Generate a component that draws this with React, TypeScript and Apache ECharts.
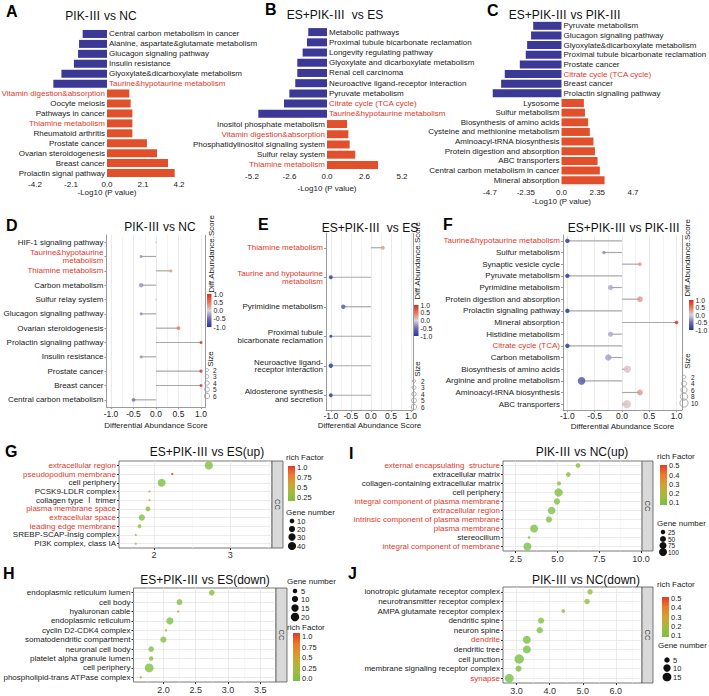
import React, { useEffect, useRef } from 'react';
import * as echarts from 'echarts';

const FONT = "'Liberation Sans', Arial, 'Noto Sans CJK SC', sans-serif";
const TXT = '#222222';
const RED_TXT = '#E0392B';
const BAR_BLUE = '#3B3896';
const BAR_RED = '#E2502B';
const DIFF_COLORS = ['#1E3A98', '#7468B4', '#D9D3DC', '#E4765B', '#DE2A1D'];
const RICH_COLORS = ['#78C143', '#A6BA3A', '#D1A233', '#EC7B2C', '#E6392A'];

// ---------- A ----------
const aTitle = 'PIK-Ⅲ vs NC';
const aNames = ['Central carbon metabolism in cancer', 'Alanine, aspartate&glutamate metabolism', 'Glucagon signaling pathway', 'Insulin resistance', 'Glyoxylate&dicarboxylate metabolism', 'Taurine&hypotaurine metabolism', 'Vitamin digestion&absorption', 'Oocyte meiosis', 'Pathways in cancer', 'Thiamine metabolism', 'Rheumatoid arthritis', 'Prostate cancer', 'Ovarian steroidogenesis', 'Breast cancer', 'Prolactin signal pathway'];
const aValues = [-1.42, -1.63, -1.69, -1.93, -2.66, -3.13, 1.3, 1.38, 1.48, 1.48, 1.48, 2.33, 2.92, 3.56, 3.95];
const aRed = ['Taurine&hypotaurine metabolism', 'Vitamin digestion&absorption', 'Thiamine metabolism'];
const aTicks = [-4.2, -2.1, 0, 2.1, 4.2];

// ---------- B ----------
const bTitle = 'ES+PIK-Ⅲ  vs ES';
const bNames = ['Metabolic pathways', 'Proximal tubule bicarbonate reclamation', 'Longevity regulating pathway', 'Glyoxylate and dicarboxylate metabolism', 'Renal cell carcinoma', 'Neuroactive ligand-receptor interaction', 'Pyruvate metabolism', 'Citrate cycle (TCA cycle)', 'Taurine&hypotaurine metabolism', 'Inositol phosphate metabolism', 'Vitamin digestion&absorption', 'Phosphatidylinositol signaling system', 'Sulfur relay system', 'Thiamine metabolism'];
const bValues = [-1.3, -1.39, -1.69, -2.06, -2.06, -2.2, -2.61, -2.98, -4.76, 1.39, 1.48, 1.57, 1.96, 3.54];
const bRed = ['Citrate cycle (TCA cycle)', 'Taurine&hypotaurine metabolism', 'Vitamin digestion&absorption', 'Thiamine metabolism'];
const bTicks = [-5.2, -2.6, 0, 2.6, 5.2];

// ---------- C ----------
const cTitle = 'ES+PIK-Ⅲ vs PIK-Ⅲ';
const cNames = ['Pyruvate metabolism', 'Glucagon signaling pathway', 'Glyoxylate&dicarboxylate metabolism', 'Proximal tubule bicarbonate reclamation', 'Prostate cancer', 'Citrate cycle (TCA cycle)', 'Breast cancer', 'Prolactin signaling pathway', 'Lysosome', 'Sulfur metabolism', 'Biosynthesis of amino acids', 'Cysteine and methionine metabolism', 'Aminoacyl-tRNA biosynthesis', 'Protein digestion and absorption', 'ABC transporters', 'Central carbon metabolism in cancer', 'Mineral absorption'];
const cValues = [-1.86, -2.0, -2.26, -2.35, -2.74, -3.73, -3.97, -4.52, 1.47, 1.54, 1.75, 1.86, 2.1, 2.2, 2.37, 2.52, 2.83];
const cRed = ['Citrate cycle (TCA cycle)'];
const cTicks = [-4.7, -2.35, 0, 2.35, 4.7];

// ---------- D ----------
const dTitle = 'PIK-Ⅲ vs NC';
const dNames = ['HIF-1 signaling pathway', 'Taurine&hypotaurine\nmetabolism', 'Thiamine metabolism', 'Carbon metabolism', 'Sulfur relay system', 'Glucagon signaling pathway', 'Ovarian steroidogenesis', 'Prolactin signaling pathway', 'Insulin resistance', 'Prostate cancer', 'Breast cancer', 'Central carbon metabolism'];
const dScores = [0, -0.33, 0.33, -0.33, 0, -0.33, 0.5, 1, -0.33, 1, 1, -0.5];
const dSizes = [1, 2, 2, 4, 1, 2, 3, 2, 2, 2, 2, 3];
const dRed = ['Taurine&hypotaurine\nmetabolism', 'Thiamine metabolism'];
const dSizeLegend = [2, 3, 4, 5, 6];

// ---------- E ----------
const eTitle = 'ES+PIK-Ⅲ  vs ES';
const eNames = ['Thiamine metabolism', 'Taurine and hypotaurine\nmetabolism', 'Pyrimidine metabolism', 'Proximal tubule\nbicarbonate reclamation', 'Neuroactive ligand-\nreceptor interaction', 'Aldosterone synthesis\nand secretion'];
const eScores = [0.3, -1, -0.69, -1, -1, -1];
const eSizes = [3, 3, 4, 2, 4, 3];
const eRed = ['Thiamine metabolism', 'Taurine and hypotaurine\nmetabolism'];
const eSizeLegend = [2, 3, 4, 5, 6];

// ---------- F ----------
const fTitle = 'ES+PIK-Ⅲ vs PIK-Ⅲ';
const fNames = ['Taurine&hypotaurine metabolism', 'Sulfur metabolism', 'Synaptic vesicle cycle', 'Pyruvate metabolism', 'Pyrimidine metabolism', 'Protein digestion and absorption', 'Prolactin signaling pathway', 'Mineral absorption', 'Histidine metabolism', 'Citrate cycle (TCA)', 'Carbon metabolism', 'Biosynthesis of amino acids', 'Arginine and proline metabolism', 'Aminoacyl-tRNA biosynthesis', 'ABC transporters'];
const fScores = [-1, -0.33, 0.33, -1, -0.21, 0.33, -1, 1, -0.21, -1, -0.25, 0.1, -0.74, 0.33, 0.09];
const fSizes = [3, 2, 2, 3, 4, 5, 3, 2, 4, 3, 6, 8, 9, 5, 10];
const fRed = ['Taurine&hypotaurine metabolism', 'Citrate cycle (TCA)'];
const fSizeLegend = [2, 4, 6, 8, 10];

const diffTicks = [-1, -0.5, 0, 0.5, 1];
const diffMinor = [-0.75, -0.25, 0.25, 0.75];
const diffLegendTicks = [1, 0.5, 0, -0.5, -1];

// ---------- G ----------
const gTitle = 'ES+PIK-Ⅲ vs ES(up)';
const gNames = ['extracellular region', 'pseudopodium membrane', 'cell periphery', 'PCSK9-LDLR complex', 'collagen type Ⅰ trimer', 'plasma membrane space', 'extracellular space', 'leading edge membrane', 'SREBP-SCAP-Insig complex', 'PI3K complex, class IA'];
const gX = [2.72, 2.24, 2.1, 1.94, 1.94, 1.92, 1.84, 1.81, 1.76, 1.76];
const gGenes = [40, 1, 38, 1, 1, 12, 22, 6, 1, 1];
const gRich = [0.18, 1.0, 0.17, 0.5, 0.5, 0.2, 0.18, 0.25, 0.35, 0.35];
const gRed = ['extracellular region', 'pseudopodium membrane', 'plasma membrane space', 'extracellular space', 'leading edge membrane'];
const gTicks = [2, 3];
const gMinor = [2.5, 3.5];
const gRichTicks = [1.0, 0.75, 0.5, 0.25];
const gGeneLegend = [10, 20, 30, 40];

// ---------- H ----------
const hTitle = 'ES+PIK-Ⅲ vs ES(down)';
const hNames = ['endoplasmic reticulum lumen', 'cell body', 'hyaluronan cable', 'endoplasmic reticulum', 'cyclin D2-CDK4 complex', 'somatodendritic compartment', 'neuronal cell body', 'platelet alpha granule lumen', 'cell periphery', 'phospholipid-trans ATPase complex'];
const hX = [2.75, 2.25, 2.23, 2.1, 2.04, 2.0, 1.81, 1.81, 1.78, 1.65];
const hGenes = [8, 9, 1, 14, 1, 10, 8, 5, 22, 1];
const hRich = [0.06, 0.06, 0.5, 0.04, 0.45, 0.05, 0.06, 0.12, 0.03, 0.35];
const hRed: string[] = [];
const hTicks = [2.0, 2.5, 3.0, 3.5];
const hMinor = [1.75, 2.25, 2.75, 3.25];
const hRichTicks = [1.0, 0.75, 0.5, 0.25, 0.0];
const hGeneLegend = [5, 10, 15, 20];

// ---------- I ----------
const iTitle = 'PIK-Ⅲ vs NC(up)';
const iNames = ['external encapsulating  structure', 'extracellular matrix', 'collagen-containing extracellular matrix', 'cell periphery', 'integral component of plasma membrane', 'extracellular region', 'intrinsic component of plasma membrane', 'plasma membrane', 'stereocilium', 'integral component of membrane'];
const iX = [6.23, 5.65, 5.09, 5.07, 4.97, 4.65, 4.49, 3.6, 3.3, 3.2];
const iGenes = [30, 30, 22, 110, 55, 90, 55, 100, 6, 100];
const iRich = [0.12, 0.11, 0.13, 0.08, 0.09, 0.09, 0.09, 0.08, 0.14, 0.07];
const iRed = ['external encapsulating  structure', 'integral component of plasma membrane', 'extracellular region', 'intrinsic component of plasma membrane', 'plasma membrane', 'integral component of membrane'];
const iTicks = [2.5, 5.0, 7.5, 10.0];
const iMinor = [3.75, 6.25, 8.75];
const iRichTicks = [0.5, 0.4, 0.3, 0.2, 0.1];
const iGeneLegend = [25, 50, 75, 100];

// ---------- J ----------
const jTitle = 'PIK-Ⅲ vs NC(down)';
const jNames = ['ionotropic glutamate receptor complex', 'neurotransmitter receptor complex', 'AMPA glutamate receptor complex', 'dendritic spine', 'neuron spine', 'dendrite', 'dendritic tree', 'cell junction', 'membrane signaling receptor complex', 'synapse'];
const jX = [5.22, 5.13, 4.41, 3.74, 3.7, 3.31, 3.31, 3.08, 3.06, 2.78];
const jGenes = [5, 5, 2, 7, 7, 12, 12, 18, 7, 15];
const jRich = [0.15, 0.13, 0.18, 0.1, 0.1, 0.08, 0.08, 0.06, 0.09, 0.06];
const jRed = ['dendrite', 'synapse'];
const jTicks = [3.0, 4.0, 5.0, 6.0];
const jMinor = [3.5, 4.5, 5.5, 6.5];
const jRichTicks = [0.5, 0.4, 0.3, 0.2, 0.1];
const jGeneLegend = [5, 10, 15];

// size scales
const dSize = (s: number) => 2.2 * Math.sqrt(s);
const fSize = (s: number) => 2.6 * Math.sqrt(s);
const gSize = (n: number) => 1.2 + 1.1 * Math.sqrt(n);
const hSize = (n: number) => 0.8 + 1.7 * Math.sqrt(n);
const iSize = (n: number) => 1.0 + 0.7 * Math.sqrt(n);
const jSize = (n: number) => 1.0 + 2.0 * Math.sqrt(n);

function buildOption() {
  const grid: any[] = [];
  const xAxis: any[] = [];
  const yAxis: any[] = [];
  const series: any[] = [];
  const graphic: any[] = [];
  const visualMap: any[] = [];

  const txt = (x: number, y: number, text: string, o: any = {}) => ({
    type: 'text', x, y, silent: true, rotation: o.rotation || 0, z: 10,
    style: {
      text, fontFamily: FONT, fontSize: o.size || 8, fontWeight: o.weight || 'normal',
      fill: o.color || TXT, align: o.align || 'left', verticalAlign: o.valign || 'middle',
    },
  });

  const fmtBar = (v: number) => (Math.abs(v) < 1e-9 ? '0.0' : String(v));

  const barPanel = (names: string[], values: number[], reds: string[], ticks: number[], box: any, margin: number, gap: number) => {
    const gi = grid.length;
    grid.push(box);
    xAxis.push({
      gridIndex: gi, type: 'value', min: ticks[0], max: ticks[ticks.length - 1],
      axisLine: { show: false }, axisTick: { show: false }, splitLine: { show: false },
      axisLabel: { customValues: ticks, formatter: fmtBar, fontSize: 8, margin, color: TXT, fontFamily: FONT },
      name: '-Log10 (P value)', nameLocation: 'middle', nameGap: gap,
      nameTextStyle: { fontSize: 8, color: TXT, fontFamily: FONT },
    });
    yAxis.push({ gridIndex: gi, type: 'category', inverse: true, data: names, show: false });
    series.push({
      type: 'bar', xAxisIndex: gi, yAxisIndex: gi, barWidth: 8, silent: true,
      label: { show: true, formatter: '{b}', fontSize: 8, fontFamily: FONT, distance: 2 },
      data: values.map((v, i) => ({
        value: v,
        itemStyle: { color: v < 0 ? BAR_BLUE : BAR_RED },
        label: { position: v < 0 ? 'right' : 'left', color: reds.includes(names[i]) ? RED_TXT : TXT },
      })),
    });
  };

  const vLine = (v: number, color: string, width: number) => ({ xAxis: v, lineStyle: { color, width, type: 'solid' } });
  const hLine = (i: number, color: string, width: number) => ({ yAxis: i, lineStyle: { color, width, type: 'solid' } });

  const lolliPanel = (names: string[], scores: number[], sizes: number[], reds: string[], box: any, min: number, max: number, sizeFn: any, margin: number, gap: number) => {
    const gi = grid.length;
    grid.push(box);
    xAxis.push({
      gridIndex: gi, type: 'value', min, max,
      axisLine: { show: true, onZero: false, lineStyle: { color: '#9a9a9a', width: 1 } },
      axisTick: { show: true, customValues: diffTicks, length: 2, lineStyle: { color: '#9a9a9a' } },
      axisLabel: { customValues: diffTicks, formatter: (v: number) => v.toFixed(1), fontSize: 8.5, margin, color: TXT, fontFamily: FONT },
      splitLine: { show: false },
      name: 'Differential Abundance Score', nameLocation: 'middle', nameGap: gap,
      nameTextStyle: { fontSize: 8, color: TXT, fontFamily: FONT },
    });
    yAxis.push({
      gridIndex: gi, type: 'category', inverse: true,
      data: names.map((n) => ({ value: n, textStyle: { color: reds.includes(n) ? RED_TXT : TXT } })),
      axisLine: { show: true, onZero: false, lineStyle: { color: '#9a9a9a' } },
      axisTick: { show: true, alignWithLabel: true, interval: 0, length: 2, lineStyle: { color: '#9a9a9a' } },
      axisLabel: { interval: 0, fontSize: 8, margin: 3, lineHeight: 7.5, fontFamily: FONT, color: TXT },
      splitLine: { show: false },
    });
    series.push({
      type: 'bar', xAxisIndex: gi, yAxisIndex: gi, barWidth: 1.2, silent: true, z: 2,
      itemStyle: { color: '#A8A8A8' }, data: scores,
    });
    const si = series.length;
    series.push({
      type: 'scatter', xAxisIndex: gi, yAxisIndex: gi, z: 3, silent: true,
      symbolSize: (v: any) => sizeFn(v[2]),
      data: scores.map((s, i) => [s, i, sizes[i], s]),
      markLine: {
        silent: true, z: 1, symbol: ['none', 'none'], label: { show: false },
        data: [
          ...diffMinor.map((v) => vLine(v, '#EDEDED', 0.7)),
          ...diffTicks.map((v) => vLine(v, '#E4E4E4', 0.8)),
          vLine(max, '#9a9a9a', 1),
        ],
      },
    });
    return si;
  };

  const bubblePanel = (names: string[], xs: number[], genes: number[], rich: number[], reds: string[], box: any, min: number, max: number, ticks: number[], minor: number[], fmt: any, sizeFn: any, margin: number) => {
    const gi = grid.length;
    grid.push({ ...box, show: true, backgroundColor: '#ffffff', borderColor: '#555555', borderWidth: 0.8 });
    xAxis.push({
      gridIndex: gi, type: 'value', min, max,
      axisLine: { show: false },
      axisTick: { show: true, customValues: ticks, length: 2, lineStyle: { color: '#333' } },
      axisLabel: { customValues: ticks, formatter: fmt, fontSize: 9, margin, color: '#333', fontFamily: FONT },
      splitLine: { show: false },
    });
    yAxis.push({
      gridIndex: gi, type: 'category', inverse: true,
      data: names.map((n) => ({ value: n, textStyle: { color: reds.includes(n) ? RED_TXT : TXT } })),
      axisLine: { show: false },
      axisTick: { show: true, alignWithLabel: true, interval: 0, length: 2, lineStyle: { color: '#333' } },
      axisLabel: { interval: 0, fontSize: 8, margin: 3, fontFamily: FONT, color: TXT },
      splitLine: { show: false },
    });
    const si = series.length;
    series.push({
      type: 'scatter', xAxisIndex: gi, yAxisIndex: gi, z: 3, silent: true,
      symbolSize: (v: any) => sizeFn(v[2]),
      data: xs.map((x, i) => [x, i, genes[i], rich[i]]),
      markLine: {
        silent: true, z: 1, symbol: ['none', 'none'], label: { show: false },
        data: [
          ...minor.map((v) => vLine(v, '#F3F3F3', 0.6)),
          ...ticks.map((v) => vLine(v, '#E6E6E6', 0.8)),
          ...names.map((_, i) => hLine(i, '#E6E6E6', 0.8)),
        ],
      },
    });
    // facet strip "CC"
    graphic.push({
      type: 'rect', silent: true, z: 5,
      shape: { x: box.left + box.width, y: box.top, width: 11, height: box.height },
      style: { fill: '#D9D9D9', stroke: '#555555', lineWidth: 0.8 },
    });
    graphic.push(txt(box.left + box.width + 5.5, box.top + box.height / 2, 'CC', { rotation: -Math.PI / 2, align: 'center', size: 7.5, color: '#333' }));
    return si;
  };

  const colorBar = (x: number, y: number, w: number, h: number, colors: string[], min: number, max: number, ticks: number[], fmt: any, size = 7, tickMin = min, tickMax = max) => {
    const n = colors.length;
    const stops = colors.map((c, i) => ({ offset: 1 - i / (n - 1), color: c })).sort((a, b) => a.offset - b.offset);
    graphic.push({
      type: 'rect', silent: true, z: 5, shape: { x, y, width: w, height: h },
      style: { fill: new echarts.graphic.LinearGradient(0, 0, 0, 1, stops) },
    });
    ticks.forEach((t) => graphic.push(txt(x + w + 2, y + ((tickMax - t) / (tickMax - tickMin)) * h, fmt(t), { size })));
  };

  const sizeLegend = (x: number, ys: number[], vals: number[], sizeFn: any, filled: boolean, labelX: number, size = 8) => {
    vals.forEach((v, i) => {
      graphic.push({
        type: 'circle', silent: true, z: 5, shape: { cx: x, cy: ys[i], r: sizeFn(v) / 2 },
        style: filled ? { fill: '#111111' } : { fill: 'none', stroke: '#9a9a9a', lineWidth: 0.8 },
      });
      graphic.push(txt(labelX, ys[i], String(v), { size }));
    });
  };

  // ---- bar panels ----
  barPanel(aNames, aValues, aRed, aTicks, { left: 35, top: 29, width: 144, height: 149 }, 2, 10);
  barPanel(bNames, bValues, bRed, bTicks, { left: 252, top: 27, width: 150, height: 143 }, 2, 14);
  barPanel(cNames, cValues, cRed, cTicks, { left: 490, top: 21, width: 143, height: 164 }, 3, 12);

  // ---- lollipop panels ----
  const sD = lolliPanel(dNames, dScores, dSizes, dRed, { left: 106.5, top: 235, width: 99, height: 172 }, -1.1, 1.1, dSize, 3, 14);
  const sE = lolliPanel(eNames, eScores, eSizes, eRed, { left: 326, top: 233, width: 87, height: 177 }, -1.12, 1.05, dSize, 2, 11);
  const sF = lolliPanel(fNames, fScores, fSizes, fRed, { left: 563, top: 235, width: 119, height: 175 }, -1.08, 1.1, fSize, 2, 12);

  // ---- bubble panels ----
  const fmt1 = (v: number) => v.toFixed(1);
  const sG = bubblePanel(gNames, gX, gGenes, gRich, gRed, { left: 119, top: 461, width: 153, height: 87 }, 1.54, 3.55, gTicks, gMinor, (v: number) => String(v), gSize, 2);
  const sH = bubblePanel(hNames, hX, hGenes, hRich, hRed, { left: 133, top: 588, width: 143, height: 94 }, 1.536, 3.746, hTicks, hMinor, fmt1, hSize, 3);
  const sI = bubblePanel(iNames, iX, iGenes, iRich, iRed, { left: 503, top: 461, width: 139, height: 90 }, 1.74, 10.06, iTicks, iMinor, fmt1, iSize, 3);
  const sJ = bubblePanel(jNames, jX, jGenes, jRich, jRed, { left: 503, top: 587, width: 139, height: 96 }, 2.59, 6.79, jTicks, jMinor, fmt1, jSize, 3);

  // ---- visual maps ----
  visualMap.push({ type: 'continuous', show: false, seriesIndex: [sD, sE, sF], dimension: 3, min: -1, max: 1, inRange: { color: DIFF_COLORS } });
  visualMap.push({ type: 'continuous', show: false, seriesIndex: sG, dimension: 3, min: 0.15, max: 1.0, inRange: { color: RICH_COLORS } });
  visualMap.push({ type: 'continuous', show: false, seriesIndex: sH, dimension: 3, min: 0, max: 1.0, inRange: { color: RICH_COLORS } });
  visualMap.push({ type: 'continuous', show: false, seriesIndex: sI, dimension: 3, min: 0.07, max: 0.51, inRange: { color: RICH_COLORS } });
  visualMap.push({ type: 'continuous', show: false, seriesIndex: sJ, dimension: 3, min: 0.08, max: 0.52, inRange: { color: RICH_COLORS } });

  // ---- panel letters ----
  const letters: [string, number, number][] = [
    ['A', 6, 11], ['B', 265, 9], ['C', 487, 10], ['D', 6, 225], ['E', 258, 224], ['F', 443, 224],
    ['G', 5, 451], ['I', 349, 453], ['H', 3, 573], ['J', 348, 573],
  ];
  letters.forEach(([l, x, y]) => graphic.push(txt(x, y, l, { size: 16, weight: 'bold', color: '#000' })));

  // ---- titles ----
  const titles: [string, number, number][] = [
    [aTitle, 101, 16], [bTitle, 335, 15], [cTitle, 565, 15],
    [dTitle, 160, 227], [eTitle, 370, 228], [fTitle, 624, 228],
    [gTitle, 207, 452], [hTitle, 205, 580], [iTitle, 582, 452], [jTitle, 586, 580],
  ];
  titles.forEach(([t, x, y]) => graphic.push(txt(x, y, t, { size: 12, align: 'center', color: '#111' })));

  // ---- D/E/F legends ----
  const fmtD = (v: number) => v.toFixed(1);
  graphic.push(txt(211, 254, 'Diff.Abundance.Score', { rotation: Math.PI / 2, align: 'center', size: 8 }));
  colorBar(207, 294, 4.5, 33, DIFF_COLORS, -1, 1, diffLegendTicks, fmtD, 7);
  graphic.push(txt(210, 359, 'Size', { rotation: Math.PI / 2, align: 'center', size: 8 }));
  sizeLegend(207, [370, 376.5, 383, 389.5, 396], dSizeLegend, dSize, false, 213, 6.5);

  graphic.push(txt(417, 261, 'Diff.Abundance.Score', { rotation: Math.PI / 2, align: 'center', size: 8 }));
  colorBar(414, 305, 4.5, 31, DIFF_COLORS, -1, 1, diffLegendTicks, fmtD, 6.8);
  graphic.push(txt(417, 369, 'Size', { rotation: Math.PI / 2, align: 'center', size: 8 }));
  sizeLegend(414, [381, 387.5, 394, 400.5, 407], eSizeLegend, dSize, false, 421, 6.5);

  graphic.push(txt(687, 258, 'Diff.Abundance.Score', { rotation: Math.PI / 2, align: 'center', size: 8 }));
  colorBar(689, 300, 4.5, 30, DIFF_COLORS, -1, 1, diffLegendTicks, fmtD, 6.8);
  graphic.push(txt(687, 361, 'Size', { rotation: Math.PI / 2, align: 'center', size: 8 }));
  sizeLegend(684, [377, 383.5, 390, 396.5, 403], fSizeLegend, fSize, false, 691, 6.5);

  // ---- G/H/I/J legends ----
  const fmtRich = (v: number) => (v === 1 ? '1.0' : v === 0 ? '0.0' : String(v));
  graphic.push(txt(286, 457, 'rich Factor', { size: 8 }));
  colorBar(288, 466, 7, 35, RICH_COLORS, 0.15, 1.0, gRichTicks, fmtRich, 7.5, 0.15, 1.03);
  graphic.push(txt(286, 512, 'Gene number', { size: 8 }));
  sizeLegend(292, [521, 529, 537, 546], gGeneLegend, gSize, true, 297, 7.5);

  graphic.push(txt(287, 581, 'Gene number', { size: 8 }));
  sizeLegend(295, [591, 599, 608, 617], hGeneLegend, hSize, true, 301, 7.5);
  graphic.push(txt(287, 627, 'rich Factor', { size: 8 }));
  colorBar(293, 633, 7, 48, RICH_COLORS, 0, 1.0, hRichTicks, fmtRich, 7.5, -0.05, 1.08);

  graphic.push(txt(657, 456, 'rich Factor', { size: 8 }));
  colorBar(660, 465, 7, 40, RICH_COLORS, 0.07, 0.51, iRichTicks, fmt1, 7.5);
  graphic.push(txt(657, 523, 'Gene number', { size: 8 }));
  sizeLegend(663, [532, 539, 545.5, 552], iGeneLegend, iSize, true, 668, 6.5);

  graphic.push(txt(657, 584, 'rich Factor', { size: 8 }));
  colorBar(662, 597, 7, 40, RICH_COLORS, 0.08, 0.52, jRichTicks, fmt1, 7.5);
  graphic.push(txt(658, 645, 'Gene number', { size: 8 }));
  sizeLegend(667, [660, 668, 677], jGeneLegend, jSize, true, 673, 7.5);

  return {
    animation: false,
    backgroundColor: '#ffffff',
    textStyle: { fontFamily: FONT },
    grid, xAxis, yAxis, series, visualMap, graphic,
  };
}

export default function App() {
  const ref = useRef<HTMLDivElement>(null);
  useEffect(() => {
    if (!ref.current) return;
    const chart = echarts.init(ref.current, null, { renderer: 'svg' });
    chart.setOption(buildOption() as any);
    return () => chart.dispose();
  }, []);
  return (
    <div
      ref={ref}
      style={{ position: 'absolute', left: 0, top: 0, width: 709, height: 696, background: '#fff' }}
    />
  );
}
